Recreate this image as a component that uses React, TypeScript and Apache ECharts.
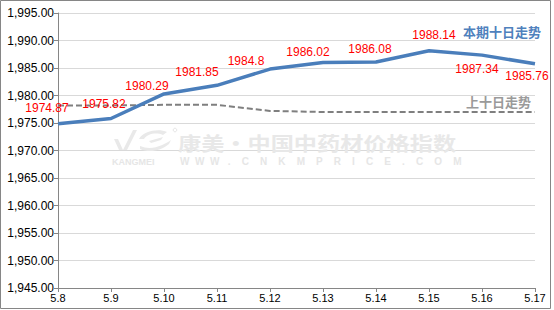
import React, { useEffect, useRef } from "react";
import * as echarts from "echarts";

const categories = ["5.8", "5.9", "5.10", "5.11", "5.12", "5.13", "5.14", "5.15", "5.16", "5.17"];
const currentValues = [1974.87, 1975.82, 1980.29, 1981.85, 1984.8, 1986.02, 1986.08, 1988.14, 1987.34, 1985.76];
const previousValues = [1978.2, 1978.2, 1978.3, 1978.3, 1977.2, 1977.0, 1977.0, 1977.0, 1977.0, 1977.0];
const yMin = 1945;
const yMax = 1995;
const yStep = 5;

const labelOffsets: Array<[string, number, number]> = [
  ["top", -11, -5],
  ["top", -7, -3],
  ["top", -17, 3],
  ["top", -20, -2],
  ["top", -24, 3],
  ["top", -15, 1],
  ["top", -6, -2],
  ["top", 5, -5],
  ["bottom", -5, 3],
  ["bottom", -8, 1],
];

const LOGO_D =
  "M2,11 L7,22 L11,22 L6,11 Z M11,22 L21,2 L25,2 L15,22 Z " +
  "M27,11 C31,3 47,0 55,4 L51,7 C44,4 35,6 32,11 Z " +
  "M37,13 L51,9 L49,12 L39,15 Z " +
  "M28,18 C40,23 52,17 59,12 L57,16 C49,23 37,25 28,21 Z";

let logoRegistered = false;

function fmt(v: number): string {
  const s = v.toFixed(2);
  const [i, d] = s.split(".");
  return i.replace(/\B(?=(\d{3})+(?!\d))/g, ",") + "." + d;
}

export default function App() {
  const ref = useRef<HTMLDivElement>(null);
  useEffect(() => {
    if (!ref.current) return;
    if (!logoRegistered) {
      echarts.graphic.registerShape("logo", echarts.graphic.extendPath(LOGO_D, {}) as any);
      logoRegistered = true;
    }
    const chart = echarts.init(ref.current, undefined, { renderer: "svg" });
    const numFont = "'Liberation Sans', Arial, sans-serif";
    const cjkFont = "'Noto Sans CJK SC', sans-serif";
    chart.setOption({
      animation: false,
      backgroundColor: "#ffffff",
      grid: { left: 58, right: 19, top: 13, bottom: 22, containLabel: false },
      xAxis: {
        type: "category",
        data: categories,
        boundaryGap: false,
        axisLine: { lineStyle: { color: "#868686", width: 1 } },
        axisTick: { show: true, length: 4, alignWithLabel: true, lineStyle: { color: "#868686" } },
        axisLabel: { color: "#000", fontSize: 11, fontFamily: numFont, margin: 4 },
        splitLine: { show: false },
      },
      yAxis: {
        type: "value",
        min: yMin,
        max: yMax,
        interval: yStep,
        axisLine: { show: true, lineStyle: { color: "#868686", width: 1 } },
        axisTick: { show: true, length: 4, lineStyle: { color: "#868686" } },
        axisLabel: { color: "#000", fontSize: 12, fontFamily: numFont, margin: 4, formatter: (v: number) => fmt(v) },
        splitLine: { show: true, lineStyle: { color: "#d9d9d9", width: 1 } },
      },
      graphic: [
        {
          type: "rect",
          shape: { x: 0.5, y: 0.5, width: 550, height: 308 },
          style: { fill: "none", stroke: "#868686", lineWidth: 1 },
          silent: true,
          z: 0,
        },
        {
          type: "logo",
          x: 112,
          y: 128,
          style: { fill: "#e9e9e9" },
          silent: true,
          z: 1,
        },
        {
          type: "circle",
          shape: { cx: 175, cy: 130, r: 1.8 },
          style: { fill: "none", stroke: "#e6e6e6", lineWidth: 1 },
          silent: true,
          z: 1,
        },
        {
          type: "text",
          x: 178,
          y: 142,
          scaleX: 1.22,
          style: {
            text: "康美·中国中药材价格指数",
            font: "bold 19px " + cjkFont,
            fill: "#e8e8e8",
            verticalAlign: "middle",
          },
          silent: true,
          z: 1,
        },
        {
          type: "text",
          x: 112,
          y: 161.5,
          style: {
            text: "KANGMEI",
            font: "bold 9px " + numFont,
            fill: "#e6e6e6",
            verticalAlign: "middle",
          },
          silent: true,
          z: 1,
        },
        {
          type: "text",
          x: 180,
          y: 161.5,
          style: {
            text: "W  W  W   .    C    N    K    M    P    R    I    C    E    .    C    O    M",
            font: "bold 10px " + numFont,
            fill: "#e6e6e6",
            verticalAlign: "middle",
          },
          silent: true,
          z: 1,
        },
        {
          type: "text",
          x: 541,
          y: 31,
          style: {
            text: "本期十日走势",
            font: "bold 13px " + cjkFont,
            fill: "#4f81bd",
            align: "right",
            verticalAlign: "middle",
          },
          z: 5,
        },
        {
          type: "text",
          x: 531,
          y: 101,
          style: {
            text: "上十日走势",
            font: "bold 13px " + cjkFont,
            fill: "#9a9a9a",
            align: "right",
            verticalAlign: "middle",
          },
          z: 5,
        },
      ],
      series: [
        {
          name: "上十日走势",
          type: "line",
          data: previousValues,
          symbol: "none",
          lineStyle: { color: "#7f7f7f", width: 2, type: [6, 3] },
          z: 3,
        },
        {
          name: "本期十日走势",
          type: "line",
          data: currentValues.map((v, i) => ({
            value: v,
            label: {
              show: true,
              position: labelOffsets[i][0],
              offset: [labelOffsets[i][1], labelOffsets[i][2]],
              distance: 5,
            },
          })),
          symbol: "circle",
          symbolSize: 0,
          showSymbol: true,
          itemStyle: { color: "#4a7ebb" },
          lineStyle: { color: "#4a7ebb", width: 3.5 },
          label: {
            show: true,
            color: "#ff0000",
            fontSize: 12,
            fontFamily: numFont,
            formatter: (p: any) => String(p.value),
          },
          z: 4,
        },
      ],
    });
    return () => chart.dispose();
  }, []);
  return <div ref={ref} style={{ position: "fixed", left: 0, top: 0, width: 554, height: 310 }} />;
}
